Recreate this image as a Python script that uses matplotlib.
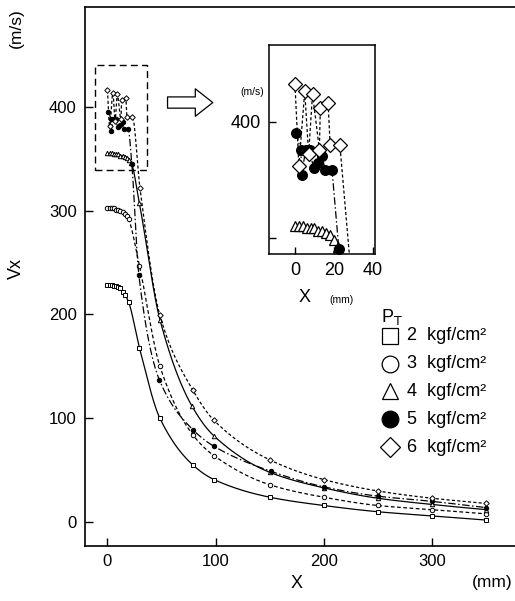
import numpy as np
import matplotlib.pyplot as plt
from matplotlib.patches import Rectangle

plt.rcParams['font.family'] = ['Liberation Sans', 'DejaVu Sans']

# velocity Vx (m/s) vs distance X (mm), one pair of lists per supply pressure
x_2 = [0, 2, 4, 6, 8, 10, 12, 14, 16, 19.5, 29.5, 48.5, 79, 98.5, 150, 200, 250, 300, 350]
v_2 = [228, 228, 228, 227, 227, 226, 225, 222, 219, 212, 168, 100, 55, 41, 24, 16, 10, 6, 2]

x_3 = [0, 2, 4, 6, 8, 10, 12, 14, 16, 18, 19.5, 29.5, 48.5, 79, 98.5, 150, 200, 250, 300, 350]
v_3 = [302, 302, 302, 302, 301, 301, 300, 299, 297, 295, 292, 247, 150, 84, 64, 36, 24, 16, 12, 8]

x_4 = [0, 2, 4, 6, 8, 10, 12, 14, 16, 18, 20, 22, 29.5, 48.5, 78, 98.5, 150, 200, 250, 300, 350]
v_4 = [355, 355, 355, 354, 354, 354, 353, 353, 352, 351, 349, 346, 307, 195, 112, 83, 48, 33, 23, 17, 12]

x_5 = [0.5, 3, 3.4, 5.5, 7.5, 9.5, 12, 14, 15.5, 19, 22.5, 29, 48, 79, 98.5, 151, 200, 250, 300, 350]
v_5 = [395, 388, 377, 388, 388, 380, 382, 385, 379, 379, 345, 238, 137, 89, 73, 49, 34, 25, 20, 14]

x_6 = [0, 2, 5, 7, 9, 12.5, 13, 17, 18, 23, 30, 48.5, 79, 98.5, 150, 200, 250, 300, 350]
v_6 = [416, 381, 413, 386, 412, 388, 406, 408, 390, 390, 322, 199, 127, 98, 60, 41, 30, 23, 18]

labels = ['2  kgf/cm\u00b2', '3  kgf/cm\u00b2', '4  kgf/cm\u00b2', '5  kgf/cm\u00b2', '6  kgf/cm\u00b2']

series = [
    (x_2, v_2, 's', 'white', '-'),
    (x_3, v_3, 'o', 'white', (0, (3, 2))),
    (x_4, v_4, '^', 'white', '-'),
    (x_5, v_5, 'o', 'black', (0, (6, 2, 1.2, 2))),
    (x_6, v_6, 'D', 'white', (0, (2.5, 1.8))),
]


def smooth_curve(x, y, n=24):
    """Monotone cubic (Fritsch-Carlson) through the measured points, for drawing only."""
    x = np.asarray(x, float)
    y = np.asarray(y, float)
    h = np.diff(x)
    d = np.diff(y) / h
    m = np.zeros_like(x)
    m[0], m[-1] = d[0], d[-1]
    for k in range(1, len(x) - 1):
        if d[k - 1] * d[k] > 0:
            w1 = 2 * h[k] + h[k - 1]
            w2 = h[k] + 2 * h[k - 1]
            m[k] = (w1 + w2) / (w1 / d[k - 1] + w2 / d[k])
    xs, ys = [], []
    for k in range(len(x) - 1):
        t = np.linspace(0, 1, n, endpoint=False)
        h00 = 2 * t**3 - 3 * t**2 + 1
        h10 = t**3 - 2 * t**2 + t
        h01 = -2 * t**3 + 3 * t**2
        h11 = t**3 - t**2
        xs.append(x[k] + t * h[k])
        ys.append(h00 * y[k] + h10 * h[k] * m[k] + h01 * y[k + 1] + h11 * h[k] * m[k + 1])
    xs.append([x[-1]])
    ys.append([y[-1]])
    return np.concatenate(xs), np.concatenate(ys)


fig = plt.figure(figsize=(5.15, 6.01), dpi=100)

# main axes
ax = fig.add_axes([85 / 515, 55 / 601, 430 / 515, 539 / 601])
for xs, vs, mk, fc, ls in series:
    cx, cy = smooth_curve(xs, vs)
    ax.plot(cx, cy, ls=ls, color='k', lw=0.9)
    ms = 3.2 if mk != 'D' else 2.8
    ax.plot(xs, vs, ls='none', marker=mk, ms=ms, mfc=fc, mec='k', mew=0.7)

ax.set_xlim(-20.8, 377)
ax.set_ylim(-23, 496)
ax.set_xticks([0, 100, 200, 300])
ax.set_yticks([0, 100, 200, 300, 400])
ax.tick_params(direction='in', length=6, width=1, labelsize=12, pad=6)
ax.spines['right'].set_visible(False)
for s in ['left', 'bottom', 'top']:
    ax.spines[s].set_linewidth(1.2)

fig.text(16 / 515, 1 - 268 / 601, 'Vx', rotation=90, ha='center', va='center', fontsize=13)
fig.text(16 / 515, 1 - 28 / 601, '(m/s)', rotation=90, ha='center', va='center', fontsize=12.5)
fig.text(297 / 515, 1 - 583 / 601, 'X', ha='center', va='center', fontsize=13)
fig.text(492 / 515, 1 - 583 / 601, '(mm)', ha='center', va='center', fontsize=12.5)

# dashed box marking the zoomed region
ax.add_patch(Rectangle((-11.6, 338.6), 47.9, 101.9, fill=False, ls=(0, (5, 3)), lw=1, ec='k'))

# hollow arrow towards the inset
ax.annotate('', xy=(100, 404), xytext=(53, 404),
            arrowprops=dict(arrowstyle='simple,head_length=0.7,head_width=1.1,tail_width=0.45',
                            fc='white', ec='k', lw=0.9, mutation_scale=18))

# legend drawn by hand
leg_x = (390 - 85) / 430
leg_rows = [336, 363.5, 391, 419, 447]
ax.text(leg_x - 0.02, (546 - 317) / 539, 'P$_\\mathrm{T}$', transform=ax.transAxes,
        fontsize=13, va='center', ha='left')
for (xs, vs, mk, fc, ls), lab, yp in zip(series, labels, leg_rows):
    ya = (546 - yp) / 539
    ax.plot([leg_x], [ya], marker=mk, ms=12 if mk != 'D' else 10, mfc=fc, mec='k', mew=0.9,
            ls='none', transform=ax.transAxes, clip_on=False)
    ax.text(leg_x + 0.04, ya, lab, transform=ax.transAxes, fontsize=13, va='center', ha='left')

# inset: enlargement near the nozzle
axi = fig.add_axes([269 / 515, 1 - 254 / 601, 106 / 515, 209 / 601])
for xs, vs, mk, fc, ls in series:
    big = {'s': 7, 'o': 7, '^': 7, 'D': 7.5}[mk]
    axi.plot(xs, vs, ls=ls if ls != '-' else (0, (6, 2, 1.2, 2)), color='k', lw=0.9,
             marker=mk, ms=big, mfc=fc, mec='k', mew=0.9)
axi.set_xlim(-13.3, 41)
axi.set_ylim(343, 433)
axi.set_xticks([0, 20, 40])
axi.set_yticks([350, 400])
axi.set_yticklabels(['', '400'])
axi.tick_params(direction='in', length=5, width=1, labelsize=13, pad=6)
for s in axi.spines.values():
    s.set_linewidth(1.1)
fig.text(252 / 515, 1 - 92 / 601, '(m/s)', ha='center', va='center', fontsize=7.5)
fig.text(305 / 515, 1 - 298 / 601, 'X', ha='center', va='center', fontsize=13)
fig.text(342 / 515, 1 - 300 / 601, '(mm)', ha='center', va='center', fontsize=7.5)

fig.savefig('out.png', dpi=100)
